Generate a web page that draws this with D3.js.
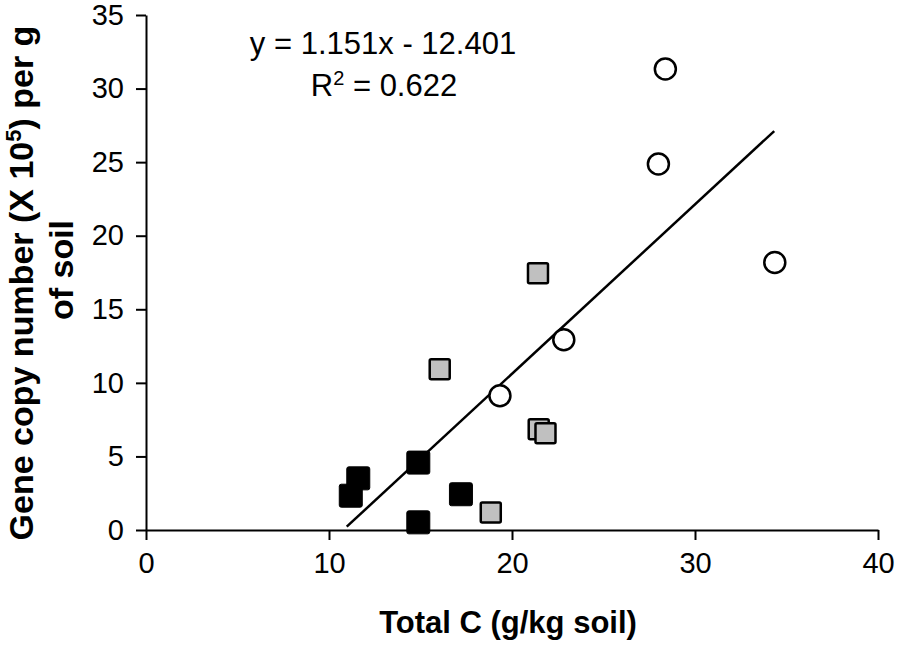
<!DOCTYPE html>
<html>
<head>
<meta charset="utf-8">
<script src="https://cdn.jsdelivr.net/npm/d3@7"></script>
<style>
  body { margin: 0; background: #fff; }
  svg { display: block; font-family: "Liberation Sans", Arial, sans-serif; }
  .axis path, .axis line { stroke: #000; stroke-width: 2; }
  .axis text { font-size: 29px; fill: #000; }
</style>
</head>
<body>
<svg id="chart" width="900" height="649"></svg>
<script>
// Data
const xTicks = [0, 10, 20, 30, 40];
const yTicks = [0, 5, 10, 15, 20, 25, 30, 35];

// low C plots (black squares)
const blackPts = [[11.19, 2.33], [11.6, 3.51], [14.88, 4.58], [14.88, 0.52], [17.21, 2.43]];
// medium C plots (grey squares)
const greyPts = [[18.84, 1.19], [16.05, 10.93], [21.42, 17.45], [21.46, 6.85], [21.83, 6.57]];
// high C plots (open circles)
const openPts = [[19.34, 9.12], [22.83, 12.93], [28.0, 24.87], [28.38, 31.33], [34.36, 18.18]];

// trend line
const slope = 1.151;
const intercept = -12.401;
const trendRange = [10.97, 34.33];

const svg = d3.select("#chart");

// Scales
const x = d3.scaleLinear().domain([0, 40]).range([146, 878]);
const y = d3.scaleLinear().domain([0, 35]).range([530, 15]);

// Axes
svg.append("g")
    .attr("class", "axis")
    .attr("transform", `translate(0,${y(0)})`)
    .call(d3.axisBottom(x).tickValues(xTicks).tickSize(10).tickSizeOuter(0).tickPadding(12));

svg.append("g")
    .attr("class", "axis")
    .attr("transform", `translate(${x(0)},0)`)
    .call(d3.axisLeft(y).tickValues(yTicks).tickSize(10).tickSizeOuter(0).tickPadding(12));

svg.selectAll(".axis text").attr("font-family", "Liberation Sans, Arial, sans-serif");

// Trend line (under the markers)
svg.append("line")
    .attr("x1", x(trendRange[0]))
    .attr("y1", y(slope * trendRange[0] + intercept))
    .attr("x2", x(trendRange[1]))
    .attr("y2", y(slope * trendRange[1] + intercept))
    .attr("stroke", "#000")
    .attr("stroke-width", 2.5);

// Markers
const sq = 23;
svg.selectAll(".black")
    .data(blackPts)
    .enter().append("rect")
    .attr("x", d => x(d[0]) - sq / 2)
    .attr("y", d => y(d[1]) - sq / 2)
    .attr("width", sq)
    .attr("height", sq)
    .attr("rx", 2)
    .attr("fill", "#000")
    .attr("stroke", "#000")
    .attr("stroke-width", 1);

svg.selectAll(".grey")
    .data(greyPts)
    .enter().append("rect")
    .attr("x", d => x(d[0]) - (sq - 3) / 2)
    .attr("y", d => y(d[1]) - (sq - 3) / 2)
    .attr("width", sq - 3)
    .attr("height", sq - 3)
    .attr("rx", 1.5)
    .attr("fill", "#c0c0c0")
    .attr("stroke", "#000")
    .attr("stroke-width", 2.5);

svg.selectAll(".open")
    .data(openPts)
    .enter().append("circle")
    .attr("cx", d => x(d[0]))
    .attr("cy", d => y(d[1]))
    .attr("r", 10.5)
    .attr("fill", "#fff")
    .attr("stroke", "#000")
    .attr("stroke-width", 2.5);

// Equation
const eq = svg.append("g").attr("font-size", "31px").attr("text-anchor", "middle");
eq.append("text")
    .attr("x", 383).attr("y", 54)
    .text("y = 1.151x - 12.401");
const r2 = eq.append("text").attr("x", 384).attr("y", 96);
r2.append("tspan").text("R");
r2.append("tspan").attr("font-size", "20px").attr("dy", -11).text("2");
r2.append("tspan").attr("dy", 11).text(" = 0.622");

// Axis titles
svg.append("text")
    .attr("x", 508).attr("y", 633)
    .attr("text-anchor", "middle")
    .attr("font-size", "31px")
    .attr("font-weight", "bold")
    .text("Total C (g/kg soil)");

const yTitle = svg.append("text")
    .attr("transform", "translate(33,283) rotate(-90)")
    .attr("text-anchor", "middle")
    .attr("font-size", "34px")
    .attr("font-weight", "bold");
yTitle.append("tspan").text("Gene copy number (X 10");
yTitle.append("tspan").attr("font-size", "22px").attr("dy", -12).text("5");
yTitle.append("tspan").attr("dy", 12).text(") per g");

svg.append("text")
    .attr("transform", "translate(73,270) rotate(-90)")
    .attr("text-anchor", "middle")
    .attr("font-size", "34px")
    .attr("font-weight", "bold")
    .text("of soil");
</script>
</body>
</html>
